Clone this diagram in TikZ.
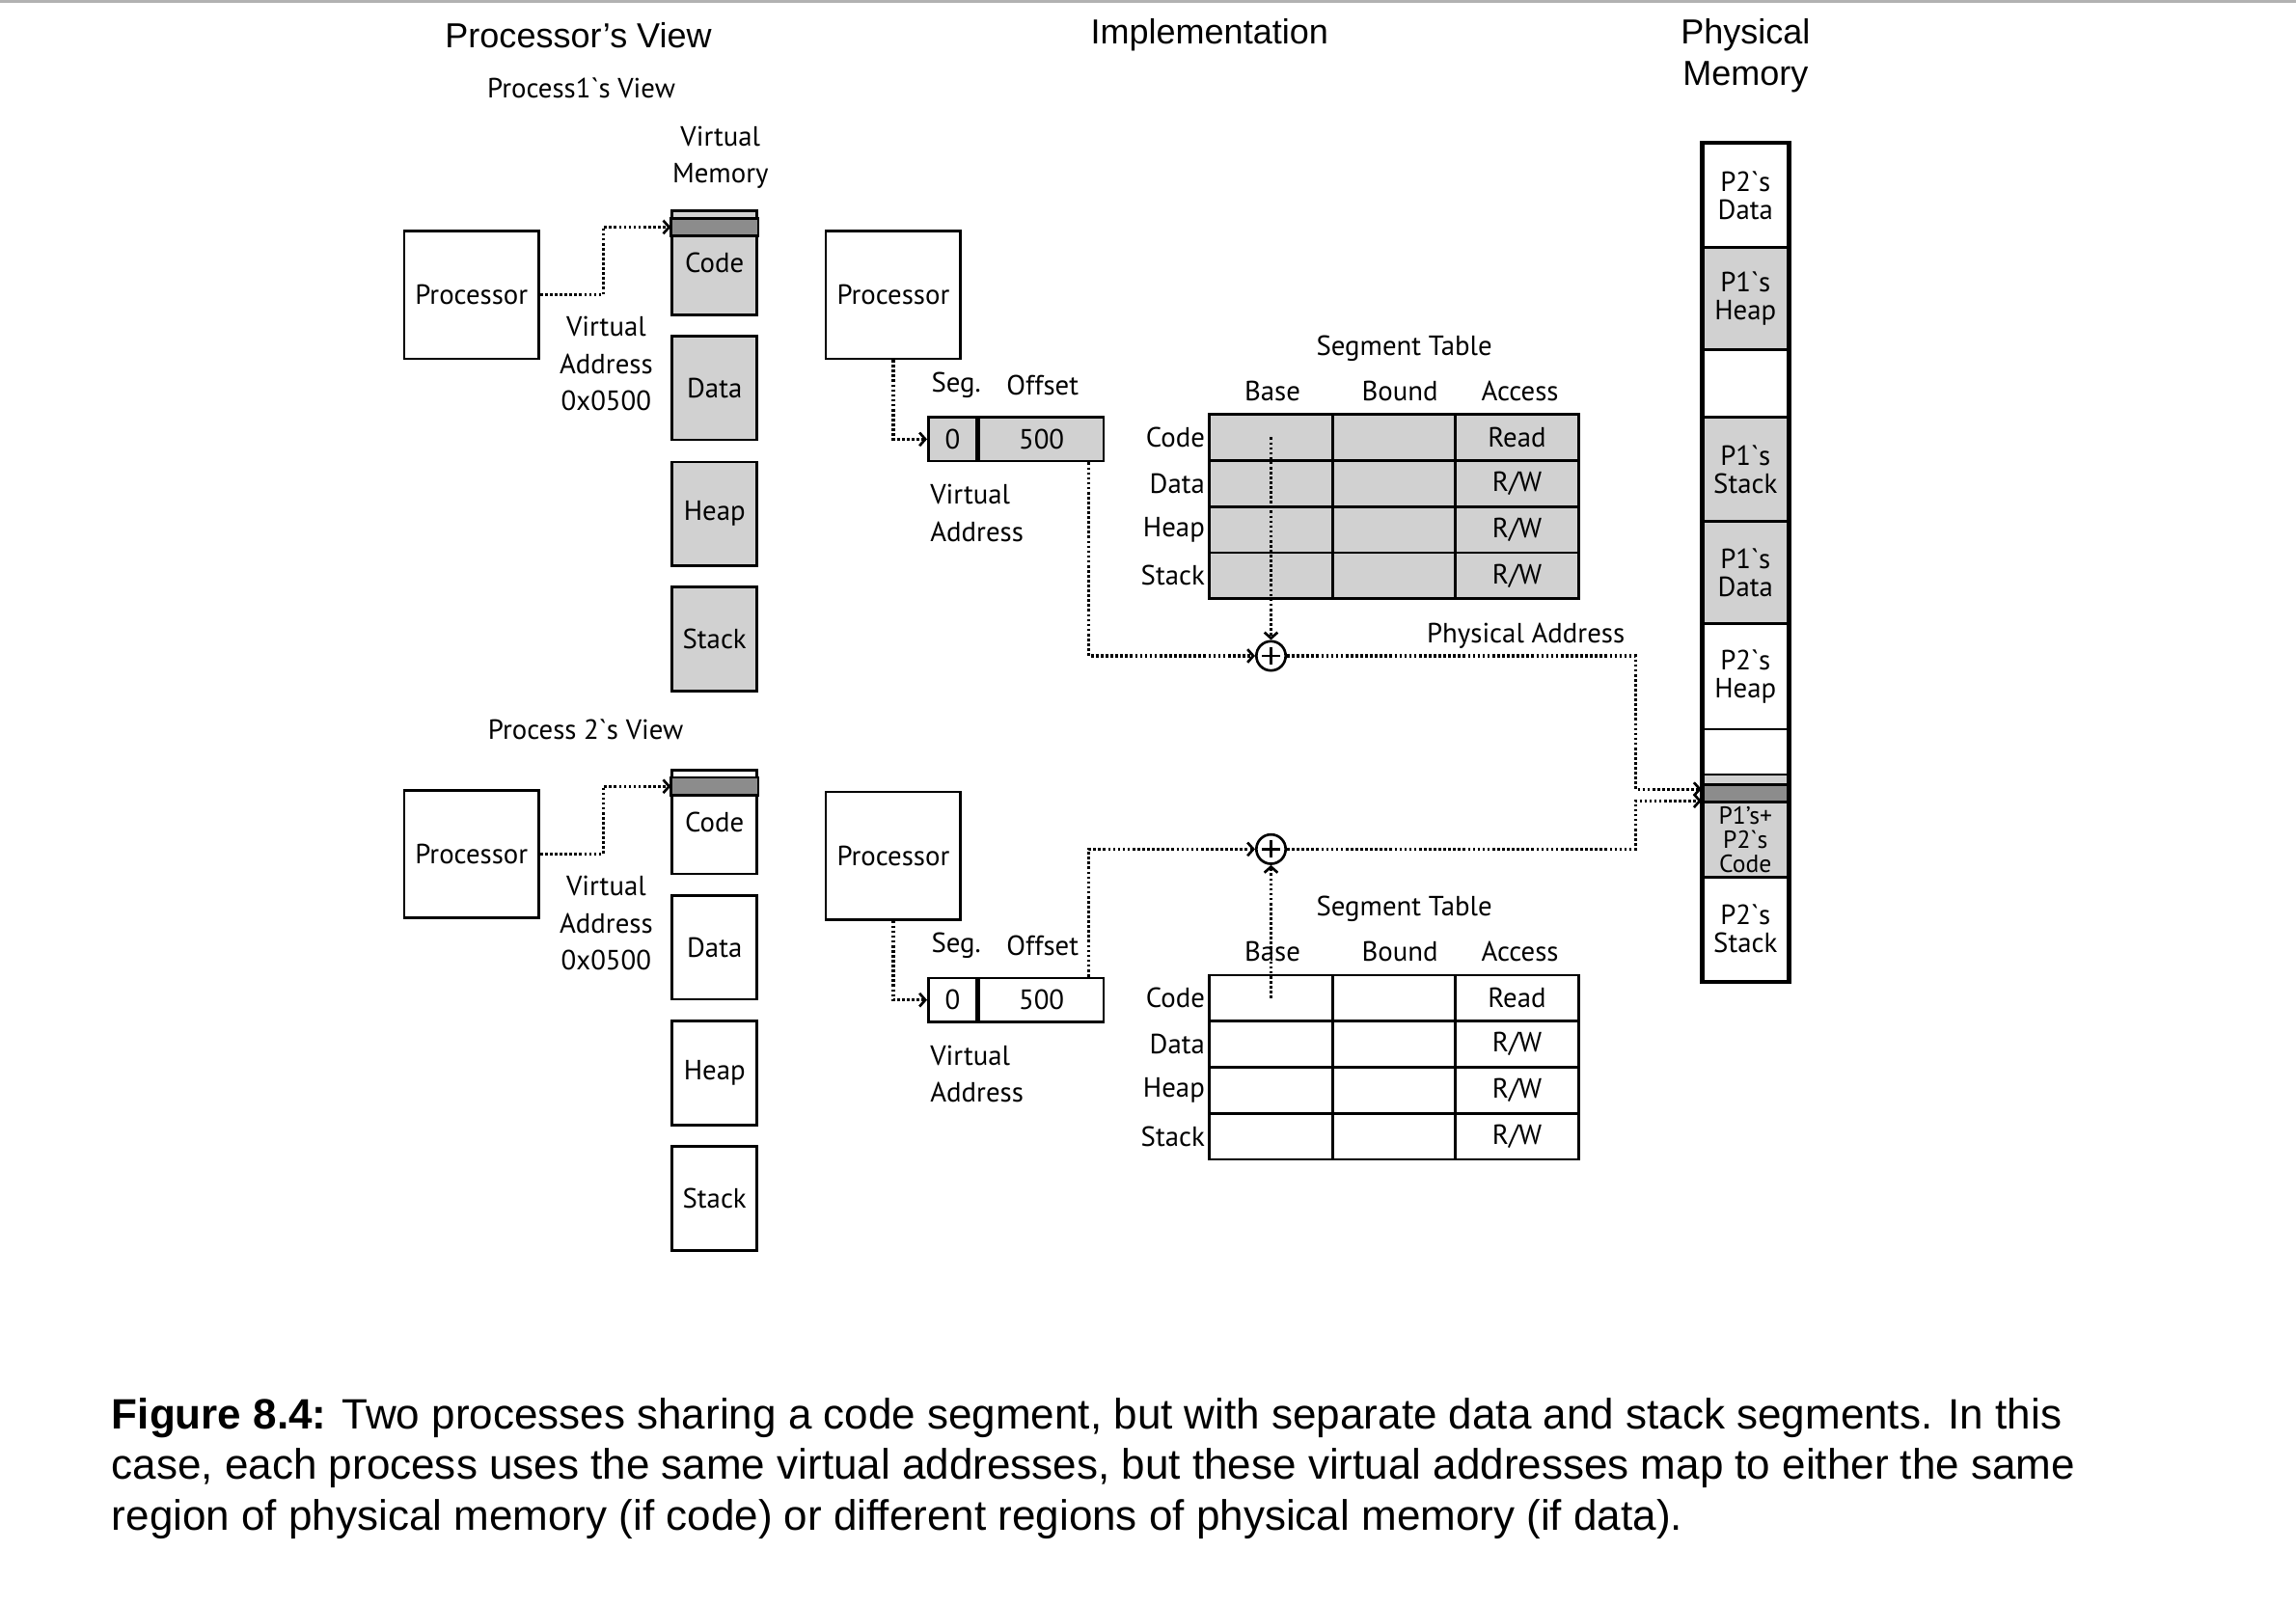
\documentclass[tikz,border=0pt]{standalone}
\usepackage{fontspec}
\setmainfont{Liberation Sans}
\newfontfamily\labfont{PT Sans}
\usetikzlibrary{arrows.meta}
\definecolor{segfill}{gray}{0.82}
\definecolor{band}{gray}{0.55}
\newcommand{\labf}{\labfont\fontsize{10.8}{14.5}\selectfont}
\newcommand{\memf}{\labfont\fontsize{10.8}{10.8}\selectfont}
\newcommand{\tightf}{\labfont\fontsize{9.6}{9.3}\selectfont}
\newcommand{\headf}{\fontsize{13.5}{16}\selectfont}
\newcommand{\capf}{\fontsize{16.5}{19.6}\selectfont}
\begin{document}
\begin{tikzpicture}[x=0.2mm,y=-0.2mm,
  box/.style={draw, line width=1pt, minimum width=18.4mm, minimum height=17.4mm, inner sep=0pt, font=\labf},
  seg/.style={draw, line width=1pt, minimum width=11.6mm, minimum height=14.2mm, inner sep=0pt, font=\labf},
  cell/.style={draw, line width=1pt, minimum height=6mm, inner sep=0pt, font=\labf},
  tcell/.style={draw, line width=1pt, minimum width=16.8mm, minimum height=6.3mm, inner sep=0pt},
  mcell/.style={draw, line width=1pt, minimum width=11.6mm, inner sep=0pt, align=center, font=\memf},
  plus/.style={circle, draw, line width=1pt, minimum size=4mm, inner sep=0pt,
    path picture={\draw[line width=1pt] ([yshift=-0.8mm]path picture bounding box.north) -- ([yshift=0.8mm]path picture bounding box.south)
      ([xshift=0.8mm]path picture bounding box.west) -- ([xshift=-0.8mm]path picture bounding box.east);}},
  lab/.style={inner sep=0pt, font=\labf},
  head/.style={inner sep=0pt, font=\headf},
  link/.style={line width=1.2pt, dash pattern=on 1pt off 0.9pt, -{Straight Barb[length=0.8mm,width=1.8mm,line width=1pt]}}]

\useasboundingbox (0,0) rectangle (1568,1096);
\draw[black!30, line width=0.5mm] (0,1) -- (1568,1);

% headings
\node[head] (hview) at (395,24) {Processor’s View};
\node[head] (himpl) at (826,24) {Implementation};
\node[head, align=center] (hphys) at (1192,38) {Physical\\Memory};
\node[lab, align=center] (vmem) at (492,107.5) {Virtual\\Memory};
\node[lab] (p1title) at (397,60) {Process1`s View};
\node[lab] (p2title) at (400,498) {Process 2`s View};

% processor's view
\foreach \p/\dy/\fc in {1/0/segfill, 2/382/white} {
  \node[box] (v\p-cpu) at (322,{201.5+\dy}) {Processor};
  \foreach \s/\yc/\txt in {code/179.5/Code, data/265/Data, heap/351/Heap, stack/436.5/Stack}
    \node[seg, fill=\fc] (v\p-\s) at (488,{\yc+\dy}) {\txt};
  \draw[line width=1pt, fill=band] ([yshift=-1.2mm]v\p-code.north west) rectangle ([yshift=-3.6mm]v\p-code.north east);
  \node[lab, align=center] (v\p-va) at (414,{248.5+\dy}) {Virtual\\Address\\0x0500};
  \draw[link] (v\p-cpu.east) -- ++(43,0) |- ([yshift=-2.4mm]v\p-code.north west);
}

% implementation
\foreach \p/\dy/\fc in {1/0/segfill, 2/383/white} {
  \node[box] (i\p-cpu) at (610,{201.5+\dy}) {Processor};
  \node[cell, fill=\fc, minimum width=6.6mm] (i\p-seg) at (650.5,{300+\dy}) {0};
  \node[cell, fill=\fc, minimum width=17mm, anchor=west] (i\p-off) at (i\p-seg.east) {500};
  \node[lab] at (653,{263+\dy}) {Seg.};
  \node[lab] at (712,{263+\dy}) {Offset};
  \node[lab, align=left, anchor=west] at (635,{350.5+\dy}) {Virtual\\Address};
  \draw[link] (i\p-cpu.south) |- (i\p-seg.west);
  \node[lab] at (959,{238+\dy}) {Segment Table};
  \foreach \h/\hx in {Base/869, Bound/956, Access/1038}
    \node[lab] at (\hx,{267+\dy}) {\h};
  \foreach \r/\rn/\acc in {1/Code/Read, 2/Data/{R/W}, 3/Heap/{R/W}, 4/Stack/{R/W}} {
    \foreach \c/\cx in {1/868, 2/952, 3/1036}
      \node[tcell, fill=\fc] (i\p-\r-\c) at (\cx,{267.25+31.5*\r+\dy}) {};
    \node[lab] at (i\p-\r-3) {\acc};
    \node[lab, anchor=east, xshift=-0.4mm] at (i\p-\r-1.west) {\rn};
  }
}

\node[plus] (i1-add) at (868,448) {};
\node[plus] (i2-add) at (868,580) {};
\node[lab] (paddr) at (1042,434) {Physical Address};

% physical memory
\foreach \yt/\yb/\fc/\txt [count=\k] in {98/169/white/{P2`s\\Data}, 169/239/segfill/{P1`s\\Heap},
    239/285/white/{}, 285/356/segfill/{P1`s\\Stack}, 356/426/segfill/{P1`s\\Data},
    426/498/white/{P2`s\\Heap}, 498/529/white/{}, 529/536/segfill/{}, 536/548/band/{},
    548/599/segfill/{}, 599/670/white/{P2`s\\Stack}}
  \node[mcell, fill=\fc, minimum height={(\yb-\yt)*0.2mm}] (m\k) at (1192,{(\yt+\yb)/2}) {\txt};
\node[lab, align=center, font=\tightf] (mcode) at (m10) {P1’s+\\P2`s\\Code};
\draw[line width=1.4pt] (m1.north west) rectangle (m11.south east);
\coordinate (mptr1) at (1162,539);
\coordinate (mptr2) at (1162,547);

% connectors
\draw[link] (i1-1-1.center) -- (i1-add.north);
\draw[link] ([xshift=-2.2mm]i1-off.south east) |- (i1-add.west);
\draw[link] (i1-add.east) -- ++(238,0) |- (mptr1);
\draw[link] (i2-1-1.center) -- (i2-add.south);
\draw[link] ([xshift=-2.2mm]i2-off.north east) |- (i2-add.west);
\draw[link] (i2-add.east) -- ++(238,0) |- (mptr2);

% caption
\node[anchor=base west, inner sep=0pt, font=\capf] (cap1) at (76,976) {\textbf{Figure 8.4:} Two processes sharing a code segment, but with separate data and stack segments. In this};
\node[anchor=base west, inner sep=0pt, font=\capf] (cap2) at (76,1010.5) {case, each process uses the same virtual addresses, but these virtual addresses map to either the same};
\node[anchor=base west, inner sep=0pt, font=\capf] (cap3) at (76,1045) {region of physical memory (if code) or different regions of physical memory (if data).};
\end{tikzpicture}
\end{document}
